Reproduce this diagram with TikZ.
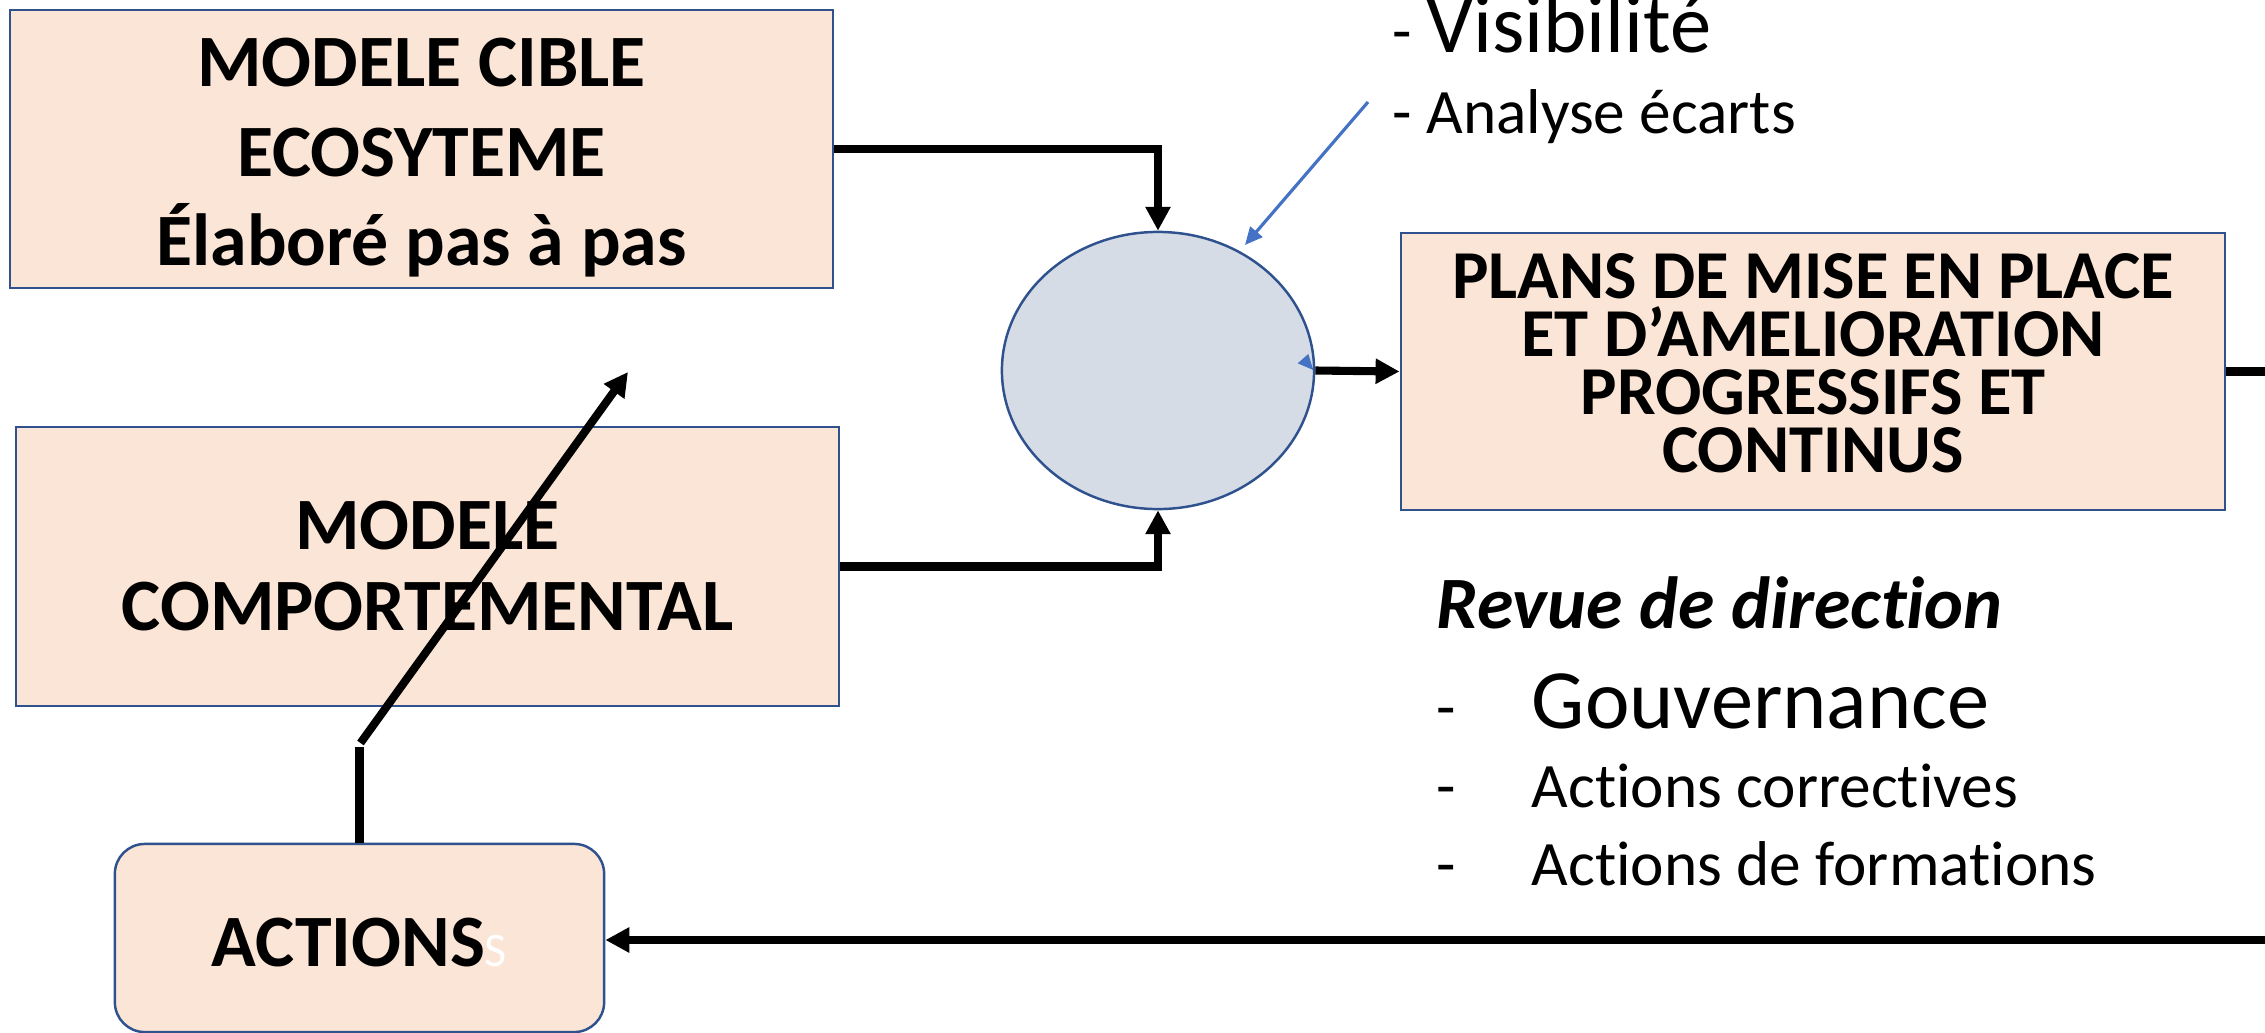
\documentclass[tikz,border=0pt]{standalone}
\usepackage{fontspec}
\setmainfont[Ligatures=NoCommon]{Carlito}
\usetikzlibrary{arrows.meta,shapes.geometric}
\definecolor{peach}{HTML}{FBE5D6}
\definecolor{edgeblue}{HTML}{2F528F}
\definecolor{ellfill}{HTML}{D6DCE5}
\definecolor{callout}{HTML}{4472C4}
\begin{document}
\begin{tikzpicture}[x=0.01cm,y=-0.01cm,
  box/.style={draw=edgeblue,fill=peach,line width=0.7pt,inner sep=0},
  boxtext/.style={inner sep=0,align=center,anchor=north},
  conn/.style={line width=2.3pt,-{Triangle[length=6.8pt,width=6.8pt]}},
  plainline/.style={line width=2.3pt},
  rtext/.style={inner sep=0,anchor=base west}]
\clip (0,0) rectangle (2265,1033);
\fill[white] (0,0) rectangle (2265,1033);

% boxes
\node[box,minimum width=8.23cm,minimum height=2.78cm] (cible) at (421.5,149) {};
\node[box,minimum width=8.23cm,minimum height=2.79cm] (comport) at (427.5,566.5) {};
\node[box,minimum width=8.24cm,minimum height=2.77cm] (plans) at (1813,371.5) {};
\node[box,rounded corners=8.5pt,minimum width=4.89cm,minimum height=1.88cm] (actions) at (359.5,938) {};
\node[ellipse,draw=edgeblue,fill=ellfill,line width=0.7pt,inner sep=0,minimum width=3.12cm,minimum height=2.77cm] (ell) at (1158,370.5) {};

% box texts
\node[boxtext,font={\fontsize{21}{25.5}\selectfont\bfseries}] (tcible) at (421.5,37.5)
  {MODELE CIBLE\\ECOSYTEME\\Élaboré pas à pas};
\node[boxtext,font={\fontsize{21}{23}\selectfont\bfseries}] (tcomport) at (427.5,500.5)
  {MODELE\\COMPORTEMENTAL};
\node[boxtext,font={\fontsize{19.5}{16.5}\selectfont\bfseries}] (tplans) at (1813,253)
  {PLANS DE MISE EN PLACE\\ET D’AMELIORATION\\PROGRESSIFS ET\\CONTINUS};
\node[inner sep=0,anchor=base,font={\fontsize{21}{25}\selectfont\bfseries}] (tactions) at (359.5,966)
  {ACTIONS{\color{white}\fontsize{13.7}{16}\selectfont\mdseries S}};

% right-hand texts
\node[rtext] (vis) at (1392,52) {{\fontsize{18}{22}\selectfont - }{\fontsize{23.5}{28}\selectfont Visibilité}};
\node[rtext,font={\fontsize{18}{22}\selectfont}] (ana) at (1392,133) {- Analyse écarts};
\node[rtext,font={\fontsize{21}{25}\selectfont\bfseries\itshape}] (revue) at (1436,628) {Revue de direction};
\node[rtext] (gouv) at (1436,728) {\makebox[0.95cm][l]{\fontsize{18}{22}\selectfont -}{\fontsize{24}{29}\selectfont Gouvernance}};
\node[rtext,font={\fontsize{18}{22}\selectfont}] (corr) at (1436,807) {\makebox[0.95cm][l]{-}Actions correctives};
\node[rtext,font={\fontsize{18}{22}\selectfont}] (form) at (1436,885) {\makebox[0.95cm][l]{-}Actions de formations};

% connectors
\draw[conn] (cible.east) -| (ell.north);
\draw[conn] (comport.east) -| (ell.south);
\draw[conn] (ell.east) -- (plans.west);
\coordinate (rout) at (2280,371.5);
\draw[plainline] (plans.east) -- (rout);
\coordinate (rin) at (2280,940);
\draw[conn] (rin) -- (rin -| actions.east);
\coordinate (kinklow) at (359.5,747);
\coordinate (kinkhigh) at (360.5,743);
\coordinate (diagtip) at (628,372);
\draw[plainline] (actions.north) -- (kinklow);
\draw[conn] (kinkhigh) -- (diagtip);

% blue callout arrow
\coordinate (cstart) at (1368,102);
\coordinate (cend) at (1245,245);
\draw[callout,line width=0.9pt,-{Triangle[length=5pt,width=4.5pt]}] (cstart) -- (cend);
\fill[callout] (1313.3,370) -- (1297.7,363.3) -- (1308.3,354) -- cycle;
\end{tikzpicture}
\end{document}
